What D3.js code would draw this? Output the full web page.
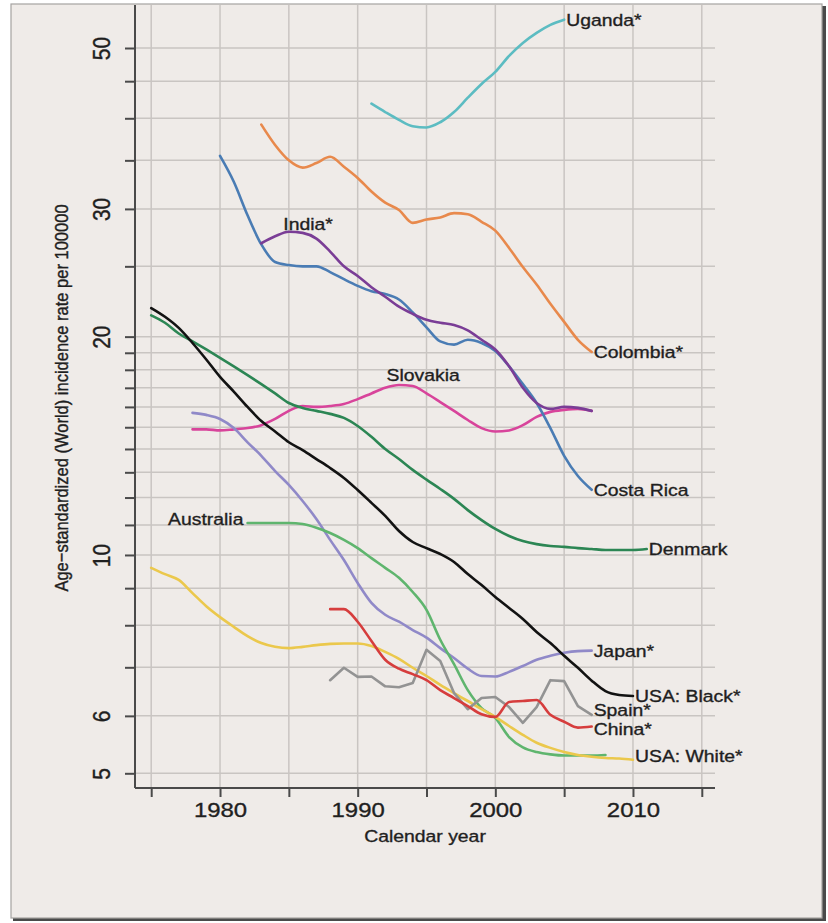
<!DOCTYPE html>
<html>
<head>
<meta charset="utf-8">
<script src="https://cdn.jsdelivr.net/npm/d3@7"></script>
<style>
  html, body { margin: 0; padding: 0; background: #ffffff; }
  svg { display: block; }
  text { font-family: "Liberation Sans", Arial, Helvetica, sans-serif; fill: #1f1f1f; stroke: #1f1f1f; stroke-width: 0.35px; }
</style>
</head>
<body>
<svg id="chart" width="828" height="923"></svg>
<script>
// ---- Data: age-standardized incidence per 100000, by calendar year ----
const ugandaYears = d3.range(1991, 2006);
const ugandaValues = [41.9, 40.8, 39.8, 39.0, 38.85, 39.5, 40.8, 42.7, 44.6, 46.35, 48.75, 50.8, 52.45, 53.8, 54.7];

const colombiaYears = d3.range(1983, 2008);
const colombiaValues = [39.2, 36.75, 35.0, 34.2, 34.7, 35.4, 34.3, 33.1, 31.7, 30.6, 29.9, 28.7, 29.0, 29.2, 29.6, 29.5, 28.8, 28.0, 26.5, 24.95, 23.6, 22.2, 20.96, 19.8, 19.05];

const costaRicaYears = d3.range(1980, 2008);
const costaRicaValues = [35.5, 32.7, 29.4, 26.8, 25.35, 25.1, 25.0, 25.0, 24.55, 24.0, 23.5, 23.1, 22.9, 22.5, 21.6, 20.6, 19.7, 19.5, 19.8, 19.6, 19.1, 18.2, 17.2, 16.2, 14.96, 13.7, 12.85, 12.3];

const indiaYears = d3.range(1983, 2008);
const indiaValues = [26.9, 27.5, 27.9, 27.8, 27.3, 26.2, 25.0, 24.25, 23.4, 22.7, 22.0, 21.5, 21.1, 20.9, 20.75, 20.4, 19.8, 19.2, 18.2, 17.0, 16.2, 15.9, 16.0, 15.95, 15.8];

const slovakiaYears = d3.range(1978, 2008);
const slovakiaValues = [14.9, 14.9, 14.85, 14.9, 14.96, 15.1, 15.4, 15.8, 16.05, 16.0, 16.05, 16.15, 16.4, 16.7, 17.0, 17.15, 17.1, 16.7, 16.25, 15.8, 15.35, 14.96, 14.8, 14.85, 15.1, 15.5, 15.75, 15.85, 15.9, 15.8];

const denmarkYears = d3.range(1975, 2012);
const denmarkValues = [21.4, 20.9, 20.2, 19.7, 19.2, 18.7, 18.2, 17.7, 17.2, 16.7, 16.2, 15.95, 15.8, 15.65, 15.45, 15.06, 14.55, 14.0, 13.56, 13.1, 12.7, 12.33, 11.95, 11.53, 11.17, 10.86, 10.62, 10.45, 10.35, 10.29, 10.26, 10.22, 10.19, 10.16, 10.16, 10.16, 10.19];

const usaBlackYears = d3.range(1975, 2011);
const usaBlackValues = [21.9, 21.3, 20.56, 19.6, 18.6, 17.6, 16.8, 16.0, 15.3, 14.8, 14.3, 13.95, 13.56, 13.18, 12.77, 12.29, 11.8, 11.32, 10.79, 10.42, 10.22, 10.03, 9.78, 9.41, 9.09, 8.75, 8.45, 8.16, 7.83, 7.56, 7.26, 6.99, 6.71, 6.49, 6.41, 6.39];

const japanYears = d3.range(1978, 2008);
const japanValues = [15.7, 15.6, 15.4, 14.96, 14.3, 13.7, 13.05, 12.49, 11.87, 11.21, 10.49, 9.84, 9.15, 8.59, 8.27, 8.09, 7.88, 7.69, 7.44, 7.21, 6.97, 6.81, 6.80, 6.90, 7.03, 7.17, 7.26, 7.33, 7.37, 7.38];

const australiaYears = d3.range(1982, 2009);
const australiaValues = [11.07, 11.07, 11.07, 11.07, 11.03, 10.9, 10.72, 10.49, 10.22, 9.9, 9.6, 9.3, 8.89, 8.4, 7.64, 7.07, 6.51, 6.15, 5.96, 5.61, 5.43, 5.35, 5.31, 5.29, 5.29, 5.29, 5.30];

const usaWhiteYears = d3.range(1975, 2011);
const usaWhiteValues = [9.6, 9.41, 9.24, 8.86, 8.5, 8.21, 7.96, 7.73, 7.56, 7.47, 7.44, 7.47, 7.51, 7.54, 7.55, 7.55, 7.49, 7.35, 7.19, 6.99, 6.81, 6.62, 6.45, 6.29, 6.13, 5.98, 5.81, 5.65, 5.51, 5.42, 5.35, 5.30, 5.27, 5.25, 5.24, 5.22];

const chinaYears = d3.range(1988, 2008);
const chinaValues = [8.42, 8.42, 8.09, 7.61, 7.17, 6.97, 6.85, 6.72, 6.51, 6.35, 6.19, 6.03, 5.98, 6.27, 6.29, 6.31, 6.02, 5.89, 5.78, 5.80];

const spainYears = d3.range(1988, 2008);
const spainValues = [6.72, 6.99, 6.79, 6.80, 6.59, 6.57, 6.66, 7.40, 7.14, 6.45, 6.13, 6.35, 6.37, 6.17, 5.87, 6.17, 6.72, 6.70, 6.19, 6.02];

// axis ticks
const xTickYears = [1975, 1980, 1985, 1990, 1995, 2000, 2005, 2010, 2015];
const xTickLabels = ["1980", "1990", "2000", "2010"];
const yGridValues = [5, 6, 7, 8, 9, 10, 11, 12, 13, 14, 15, 16, 17, 18, 19, 20, 25, 30, 35, 40, 45, 50];
const yTickLabels = ["5", "6", "10", "20", "30", "50"];

// ---- Series definitions ----
const series = [
  { name: "Uganda*",     years: ugandaYears,    values: ugandaValues,    color: "#5cbcc2" },
  { name: "Colombia*",   years: colombiaYears,  values: colombiaValues,  color: "#e8894c" },
  { name: "Slovakia",    years: slovakiaYears,  values: slovakiaValues,  color: "#d8449b" },
  { name: "Costa Rica",  years: costaRicaYears, values: costaRicaValues, color: "#4a7cb4" },
  { name: "India*",      years: indiaYears,     values: indiaValues,     color: "#7a3d96" },
  { name: "Denmark",     years: denmarkYears,   values: denmarkValues,   color: "#2c8654" },
  { name: "Japan*",      years: japanYears,     values: japanValues,     color: "#9089c8" },
  { name: "Australia",   years: australiaYears, values: australiaValues, color: "#5fb56e" },
  { name: "USA: White*", years: usaWhiteYears,  values: usaWhiteValues,  color: "#ebc84c" },
  { name: "Spain*",      years: spainYears,     values: spainValues,     color: "#939393", linear: true },
  { name: "China*",      years: chinaYears,     values: chinaValues,     color: "#d63d3d" },
  { name: "USA: Black*", years: usaBlackYears,  values: usaBlackValues,  color: "#121212" }
];

// ---- Layout ----
const svg = d3.select("#chart");
const SX = 1.14; // horizontal text stretch

// framed panel with shadow
svg.append("rect").attr("x", 13).attr("y", 6).attr("width", 813).attr("height", 915)
  .attr("fill", "#2a2a2a").attr("opacity", 0.85);
svg.append("rect").attr("x", 11).attr("y", 4).attr("width", 811).attr("height", 914)
  .attr("fill", "#efebe8").attr("stroke", "#a5a3a1").attr("stroke-width", 1.2);

const x = d3.scaleLinear().domain([1975, 2015]).range([151.2, 701.8]);
const y = d3.scaleLog().domain([5, 50]).range([773.3, 48.0]);

const plotLeft = 135, plotRight = 715, plotTop = 5, plotBottom = 788;

// grid
const grid = svg.append("g").attr("stroke", "#c9c5c2").attr("stroke-width", 1.5);
grid.selectAll("line.h").data(yGridValues).join("line")
  .attr("x1", plotLeft).attr("x2", plotRight)
  .attr("y1", d => y(d)).attr("y2", d => y(d));
grid.selectAll("line.v").data(xTickYears).join("line")
  .attr("x1", d => x(d)).attr("x2", d => x(d))
  .attr("y1", plotTop).attr("y2", plotBottom);

// y axis
const yAxis = d3.axisLeft(y).tickValues(yGridValues).tickSize(10)
  .tickFormat(d => yTickLabels.includes(String(d)) ? String(d) : "");
const gy = svg.append("g").attr("transform", `translate(${plotLeft},0)`).call(yAxis);
gy.select(".domain").remove();
gy.selectAll(".tick line").attr("stroke", "#4a4a4a").attr("stroke-width", 2);
gy.selectAll(".tick text").remove();
gy.selectAll(".tick").filter(d => yTickLabels.includes(String(d)))
  .append("text")
  .attr("transform", `translate(-25,0) scale(${SX},1) rotate(-90)`)
  .attr("text-anchor", "middle")
  .attr("font-size", 21)
  .text(d => String(d));
svg.append("line").attr("x1", plotLeft).attr("x2", plotLeft)
  .attr("y1", plotTop).attr("y2", plotBottom)
  .attr("stroke", "#4a4a4a").attr("stroke-width", 2);

// x axis
const xAxis = d3.axisBottom(x).tickValues(xTickYears).tickSize(9)
  .tickFormat(d => xTickLabels.includes(String(d)) ? String(d) : "");
const gx = svg.append("g").attr("transform", `translate(0,${plotBottom})`).call(xAxis);
gx.select(".domain").remove();
gx.selectAll(".tick line").attr("stroke", "#4a4a4a").attr("stroke-width", 2);
gx.selectAll(".tick text").remove();
gx.selectAll(".tick").filter(d => xTickLabels.includes(String(d)))
  .append("text")
  .attr("transform", `translate(0,29) scale(${SX},1)`)
  .attr("text-anchor", "middle")
  .attr("font-size", 21)
  .text(d => String(d));
svg.append("line").attr("x1", plotLeft).attr("x2", plotRight)
  .attr("y1", plotBottom).attr("y2", plotBottom)
  .attr("stroke", "#4a4a4a").attr("stroke-width", 2);

// axis titles
svg.append("text")
  .attr("transform", `translate(425,842) scale(${SX},1)`)
  .attr("text-anchor", "middle").attr("font-size", 17)
  .text("Calendar year");
svg.append("text")
  .attr("transform", `translate(68,398) scale(${SX},1) rotate(-90)`)
  .attr("text-anchor", "middle").attr("font-size", 16.5)
  .text("Age\u2212standardized (World) incidence rate per 100000");

// lines
const lines = svg.append("g").attr("fill", "none").attr("stroke-linejoin", "round").attr("stroke-linecap", "round");
series.forEach(s => {
  const pts = s.years.map((yr, i) => [yr, s.values[i]]);
  const gen = d3.line().x(d => x(d[0])).y(d => y(d[1]))
    .curve(s.linear ? d3.curveLinear : d3.curveMonotoneX);
  lines.append("path").attr("d", gen(pts))
    .attr("stroke", s.color).attr("stroke-width", 2.6);
});

// series labels at line ends
const labelFont = 17;
const labelNudge = {
  "Spain*": -5,
  "China*": 2,
  "USA: White*": -4
};
const endLabelled = ["Uganda*", "Colombia*", "Costa Rica", "Denmark", "Japan*", "USA: Black*", "Spain*", "China*", "USA: White*"];
const labels = svg.append("g");
series.filter(s => endLabelled.includes(s.name)).forEach(s => {
  const n = s.years.length - 1;
  const lx = x(s.years[n]) + 2;
  const ly = y(s.values[n]) + (labelNudge[s.name] || 0);
  labels.append("text")
    .attr("transform", `translate(${lx},${ly}) scale(${SX},1)`)
    .attr("dy", "0.36em").attr("font-size", labelFont)
    .text(s.name);
});
// labels placed beside their curves
const inlineLabels = [
  { name: "India*",    year: 1984.6, value: 28.6, anchor: "start" },
  { name: "Slovakia",  year: 1992.1, value: 17.7, anchor: "start" },
  { name: "Australia", year: 1981.7, value: 11.2, anchor: "end" }
];
inlineLabels.forEach(l => {
  labels.append("text")
    .attr("transform", `translate(${x(l.year)},${y(l.value)}) scale(${SX},1)`)
    .attr("dy", "0.36em").attr("font-size", labelFont)
    .attr("text-anchor", l.anchor)
    .text(l.name);
});
</script>
</body>
</html>
